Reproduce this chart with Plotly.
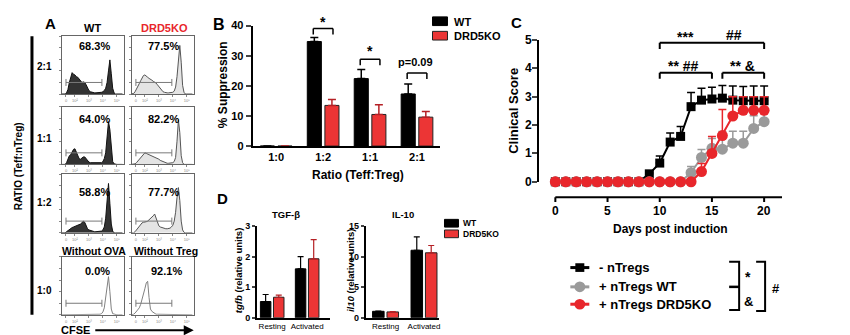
import plotly.graph_objects as go

W, H = 850, 335
FONT = "Arial, 'Liberation Sans', Helvetica, sans-serif"
RED = "#e8262b"
BAR_RED = "#ec3535"
ERR_RED = "#b52025"
GREY = "#9a9a9a"

# ---------------- Panel A: CFSE histograms (log10 decades, normalised counts) ----------------
cfse_bins = [1.0, 1.1, 1.2, 1.3, 1.4, 1.5, 1.6, 1.7, 1.8, 1.9,
             2.0, 2.1, 2.2, 2.3, 2.4, 2.5, 2.6, 2.7, 2.8, 2.9,
             3.0, 3.1, 3.2, 3.3, 3.4, 3.5, 3.6, 3.7, 3.8, 3.9,
             4.0, 4.1, 4.2, 4.3, 4.4, 4.5, 4.6, 4.7, 4.8, 4.9,
             5.0, 5.1, 5.2, 5.3, 5.4]
wt_2_1 = [0, 0, 0, 0, 0.02, 0.08, 0.2, 0.3, 0.37, 0.34,
          0.33, 0.3, 0.29, 0.26, 0.22, 0.2, 0.21, 0.2, 0.16, 0.1,
          0.06, 0.04, 0.03, 0.03, 0.02, 0.02, 0.02, 0.02, 0.02, 0.03,
          0.04, 0.06, 0.1, 0.2, 0.4, 0.59, 0.35, 0.1, 0.02, 0,
          0, 0, 0, 0, 0]
ko_2_1 = [0, 0, 0.01, 0.04, 0.08, 0.13, 0.18, 0.23, 0.28, 0.32,
          0.33, 0.3, 0.29, 0.27, 0.26, 0.24, 0.22, 0.21, 0.19, 0.16,
          0.13, 0.09, 0.06, 0.04, 0.03, 0.02, 0.02, 0.02, 0.02, 0.02,
          0.03, 0.05, 0.12, 0.3, 0.65, 0.84, 0.55, 0.15, 0.03, 0,
          0, 0, 0, 0, 0]
wt_1_1 = [0, 0, 0, 0, 0.03, 0.1, 0.15, 0.17, 0.22, 0.26,
          0.27, 0.22, 0.15, 0.1, 0.09, 0.11, 0.13, 0.13, 0.1, 0.06,
          0.04, 0.03, 0.03, 0.02, 0.02, 0.02, 0.02, 0.02, 0.02, 0.03,
          0.05, 0.1, 0.2, 0.45, 0.74, 0.6, 0.25, 0.05, 0.01, 0,
          0, 0, 0, 0, 0]
ko_1_1 = [0, 0, 0, 0.01, 0.03, 0.06, 0.09, 0.12, 0.15, 0.18,
          0.2, 0.19, 0.18, 0.17, 0.16, 0.15, 0.14, 0.13, 0.12, 0.1,
          0.09, 0.07, 0.06, 0.04, 0.03, 0.02, 0.02, 0.02, 0.02, 0.02,
          0.03, 0.05, 0.12, 0.4, 0.77, 0.55, 0.15, 0.03, 0, 0,
          0, 0, 0, 0, 0]
wt_1_2 = [0, 0, 0, 0, 0.02, 0.04, 0.06, 0.08, 0.09, 0.1,
          0.11, 0.11, 0.13, 0.14, 0.15, 0.17, 0.2, 0.18, 0.12, 0.07,
          0.05, 0.04, 0.03, 0.03, 0.02, 0.02, 0.02, 0.02, 0.02, 0.03,
          0.05, 0.1, 0.25, 0.6, 0.84, 0.5, 0.15, 0.03, 0, 0,
          0, 0, 0, 0, 0]
ko_1_2 = [0, 0, 0, 0.02, 0.05, 0.09, 0.12, 0.15, 0.17, 0.18,
          0.18, 0.19, 0.2, 0.22, 0.24, 0.26, 0.29, 0.32, 0.24, 0.16,
          0.12, 0.1, 0.09, 0.08, 0.07, 0.07, 0.07, 0.07, 0.08, 0.1,
          0.13, 0.2, 0.35, 0.6, 0.77, 0.55, 0.2, 0.05, 0.01, 0,
          0, 0, 0, 0, 0]
wt_1_0 = [0, 0, 0, 0, 0.01, 0.01, 0.01, 0.01, 0.01, 0.01,
          0.01, 0.01, 0.01, 0.01, 0.01, 0.01, 0.01, 0.01, 0.01, 0.01,
          0.01, 0.01, 0.01, 0.01, 0.01, 0.01, 0.01, 0.01, 0.01, 0.02,
          0.05, 0.12, 0.3, 0.55, 0.66, 0.4, 0.1, 0.02, 0.01, 0,
          0, 0, 0, 0, 0]
ko_1_0 = [0, 0, 0.01, 0.03, 0.06, 0.1, 0.12, 0.18, 0.26, 0.34,
          0.45, 0.55, 0.58, 0.3, 0.1, 0.06, 0.04, 0.02, 0.01, 0.01,
          0.01, 0.01, 0.01, 0.01, 0.01, 0.01, 0.01, 0.01, 0.01, 0.01,
          0.01, 0.01, 0.01, 0.01, 0.01, 0.01, 0.01, 0.01, 0.01, 0,
          0, 0, 0, 0, 0]
gate_range = [1.36, 3.93]
gate_level = [0.2, 0.2]
cfse_tickvals = [1.36, 2, 3, 4, 5]
cfse_ticktext = ["0", "10²", "10³", "10⁴", "10⁵"]
ratio_rows = ["2:1", "1:1", "1:2", "1:0"]
pct_wt = ["68.3%", "64.0%", "58.8%", "0.0%"]
pct_ko = ["77.5%", "82.2%", "77.7%", "92.1%"]

# ---------------- Panel B ----------------
ratio_cats = ["1:0", "1:2", "1:1", "2:1"]
supp_wt = [0, 34.7, 22.4, 17.3]
supp_wt_err = [None, 1.35, 3.0, 3.3]
supp_ko = [0, 13.5, 10.5, 9.6]
supp_ko_err = [None, 2.0, 3.2, 1.9]

# ---------------- Panel C ----------------
days = [0, 1, 2, 3, 4, 5, 6, 7, 8, 9, 10, 11, 12, 13, 14, 15, 16, 17, 18, 19, 20]
score_none = [0, 0, 0, 0, 0, 0, 0, 0, 0, 0.28, 0.66, 1.4, 1.6, 2.65, 2.88, 2.92, 2.95, 2.88, 2.86, 2.86, 2.86]
score_none_err = [0, 0, 0, 0, 0, 0, 0, 0, 0, 0.05, 0.25, 0.32, 0.35, 0.5, 0.42, 0.41, 0.45, 0.5, 0.5, 0.52, 0.52]
score_wt = [0, 0, 0, 0, 0, 0, 0, 0, 0, 0, 0, 0, 0, 0.32, 0.86, 1.18, 1.15, 1.36, 1.36, 1.88, 2.12]
score_wt_err = [0, 0, 0, 0, 0, 0, 0, 0, 0, 0, 0, 0, 0, 0.22, 0.28, 0.35, 0.62, 0.42, 0.42, 0.45, 0.45]
score_ko = [0, 0, 0, 0, 0, 0, 0, 0, 0, 0, 0, 0, 0, 0, 0.36, 1.0, 1.63, 2.32, 2.52, 2.52, 2.52]
score_ko_err = [0, 0, 0, 0, 0, 0, 0, 0, 0, 0, 0, 0, 0, 0, 0.28, 0.6, 0.92, 0.68, 0.48, 0.48, 0.48]
day_ticks = [0, 5, 10, 15, 20]
score_ticks = [0, 1, 2, 3, 4, 5]
group_names = ["- nTregs", "+ nTregs WT", "+ nTregs DRD5KO"]

# ---------------- Panel D ----------------
cond = ["Resting", "Activated"]
tgfb_wt = [0.53, 1.6]
tgfb_wt_err = [0.23, 0.4]
tgfb_ko = [0.67, 1.93]
tgfb_ko_err = [0.07, 0.63]
il10_wt = [1.05, 11.05]
il10_wt_err = [0.05, 2.2]
il10_ko = [0.95, 10.63]
il10_ko_err = [0.07, 1.2]


def X(p):
    return p / W


def Y(p):
    return 1 - p / H


fig = go.Figure()
annotations = []
shapes = []
layout = dict(
    width=W, height=H, margin=dict(l=0, r=0, t=0, b=0),
    paper_bgcolor="white", plot_bgcolor="white", showlegend=False,
    barmode="group", bargap=0.25, bargroupgap=0.2,
    font=dict(family=FONT, color="black"),
)


def text(t, x, y, size=11, color="black", bold=True, angle=0, xanchor="center", yanchor="middle"):
    annotations.append(dict(
        text=t, x=X(x), y=Y(y), xref="paper", yref="paper", showarrow=False,
        font=dict(family=FONT, size=size, color=color, weight="bold" if bold else "normal"),
        textangle=angle, xanchor=xanchor, yanchor=yanchor))


# ---- Panel A histograms
hist_sets = [(wt_2_1, ko_2_1), (wt_1_1, ko_1_1), (wt_1_2, ko_1_2), (wt_1_0, ko_1_0)]
row_y = [(23, 83), (96, 156), (166, 227), (252, 312)]
col_x = [(54, 116), (124, 186)]
pct_y = [33, 109, 185, 267]
for r in range(4):
    for c in range(2):
        k = 2 * r + c + 1
        s = "" if k == 1 else str(k)
        vals = hist_sets[r][c]
        if r == 3:
            fill, fcol, lcol = "none", "rgba(0,0,0,0)", "#808080"
        elif c == 0:
            fill, fcol, lcol = "tozeroy", "#333333", "#111111"
        else:
            fill, fcol, lcol = "tozeroy", "#e4e4e4", "#555555"
        fig.add_trace(go.Scatter(x=cfse_bins, y=vals, mode="lines", fill=fill, fillcolor=fcol,
                                 line=dict(color=lcol, width=1), xaxis="x" + s, yaxis="y" + s,
                                 hoverinfo="skip"))
        fig.add_trace(go.Scatter(x=gate_range, y=gate_level, mode="lines+markers",
                                 line=dict(color="#7a7a7a", width=1),
                                 marker=dict(symbol="line-ns-open", size=5, color="#7a7a7a",
                                             line=dict(width=1, color="#7a7a7a")),
                                 xaxis="x" + s, yaxis="y" + s, hoverinfo="skip"))
        x0, x1 = col_x[c]
        y0, y1 = row_y[r]
        layout["xaxis" + s] = dict(domain=[X(x0), X(x1)], range=[1.07, 5.5], anchor="y" + s,
                                   showline=True, mirror=True, linecolor="#666", linewidth=1,
                                   ticks="outside", ticklen=2, tickwidth=0.8, tickcolor="#888",
                                   tickvals=cfse_tickvals, ticktext=cfse_ticktext,
                                   tickfont=dict(size=4, color="#888"),
                                   showgrid=False, zeroline=False, fixedrange=True)
        layout["yaxis" + s] = dict(domain=[Y(y1), Y(y0)], range=[0, 1], anchor="x" + s,
                                   showline=True, mirror=True, linecolor="#666", linewidth=1,
                                   ticks="outside", ticklen=2, tickwidth=0.8, tickcolor="#888",
                                   tickvals=[0, 0.2, 0.4, 0.6, 0.8, 1.0], showticklabels=False,
                                   showgrid=False, zeroline=False, fixedrange=True)
    text(pct_wt[r], 87 if r < 3 else 90, pct_y[r], size=11)
    text(pct_ko[r], 156 if r < 3 else 159, pct_y[r], size=11)

row_label_y = [54, 129, 195, 287]
for r in range(4):
    text(ratio_rows[r], 37, row_label_y[r], size=10)
text("A", 43, 10, size=15)
text("WT", 85, 15, size=11)
text("DRD5KO", 157, 15, size=11, color=RED)
text("Without OVA", 86, 246, size=10.5)
text("Without Treg", 158, 246, size=10.5)
text("RATIO (Teff:nTreg)", 10, 158, size=10, angle=-90)
text("CFSE", 68, 328, size=11)
shapes.append(dict(type="line", xref="paper", yref="paper", x0=X(24), x1=X(24), y0=Y(23), y1=Y(312),
                   line=dict(color="black", width=3)))
annotations.append(dict(x=X(186), y=Y(328), ax=-100, ay=0, xref="paper", yref="paper",
                        axref="pixel", ayref="pixel", showarrow=True, arrowhead=2, arrowsize=1,
                        arrowwidth=2, arrowcolor="black", text=""))

# ---- Panel B
fig.add_trace(go.Bar(x=ratio_cats, y=supp_wt, marker=dict(color="black", line=dict(color="black", width=1)),
                     error_y=dict(type="data", array=supp_wt_err, arrayminus=[0, 0, 0, 0], symmetric=False,
                                  color="black", thickness=1.5, width=4),
                     xaxis="x9", yaxis="y9", offsetgroup="wt"))
fig.add_trace(go.Bar(x=ratio_cats, y=supp_ko, marker=dict(color=BAR_RED, line=dict(color="#222", width=1)),
                     error_y=dict(type="data", array=supp_ko_err, arrayminus=[0, 0, 0, 0], symmetric=False,
                                  color=ERR_RED, thickness=1.5, width=4),
                     xaxis="x9", yaxis="y9", offsetgroup="ko"))
bold11 = dict(family=FONT, size=11, color="black", weight="bold")
layout["xaxis9"] = dict(domain=[X(245), X(433)], anchor="y9", type="category", range=[-0.5, 3.5],
                        showline=True, linewidth=2, linecolor="black", ticks="", tickfont=bold11,
                        showgrid=False, zeroline=False, fixedrange=True)
layout["yaxis9"] = dict(domain=[Y(137), Y(12)], anchor="x9", range=[0, 40], tickvals=[0, 10, 20, 30, 40],
                        showline=True, linewidth=2, linecolor="black", ticks="outside", ticklen=5,
                        tickwidth=2, tickfont=bold11, showgrid=False, zeroline=False, fixedrange=True)


def bracket(xr, yr, xa, yt, yl, w=1.5):
    for (a0, b0, a1, b1) in [(xa[0], yl, xa[0], yt), (xa[0], yt, xa[1], yt), (xa[1], yt, xa[1], yl)]:
        shapes.append(dict(type="line", xref=xr, yref=yr, x0=a0, y0=b0, x1=a1, y1=b1,
                           line=dict(color="black", width=w)))


bracket("x9", "y9", [0.79, 1.21], 39.0, 37.0)
bracket("x9", "y9", [1.79, 2.21], 28.8, 26.8)
bracket("x9", "y9", [2.79, 3.21], 24.3, 22.3)
text("*", 315, 8, size=14)
text("*", 362, 38, size=14)
text("p=0.09", 408, 50, size=11)
text("B", 211, 11, size=16)
text("% Suppression", 216, 73, size=12, angle=-90)
text("Ratio (Teff:Treg)", 350, 167, size=12)
shapes.append(dict(type="rect", xref="paper", yref="paper", x0=X(425), x1=X(440), y0=Y(12), y1=Y(3),
                   fillcolor="black", line=dict(color="black", width=1)))
shapes.append(dict(type="rect", xref="paper", yref="paper", x0=X(425), x1=X(440), y0=Y(27), y1=Y(18),
                   fillcolor=BAR_RED, line=dict(color="#222", width=1)))
text("WT", 445, 8, size=11, xanchor="left")
text("DRD5KO", 445, 23, size=11, xanchor="left")

# ---- Panel C
series = [(score_none, score_none_err, "black", "square", 9),
          (score_wt, score_wt_err, GREY, "circle", 11),
          (score_ko, score_ko_err, RED, "circle", 11)]
for (vals, err, col, sym, sz), nm in zip(series, group_names):
    fig.add_trace(go.Scatter(x=days, y=vals, name=nm, mode="lines+markers",
                             line=dict(color=col, width=2),
                             marker=dict(symbol=sym, size=sz, color=col, line=dict(width=0)),
                             error_y=dict(type="data", array=err, arrayminus=[0] * len(err), symmetric=False,
                                          color=col, thickness=1.5, width=4),
                             cliponaxis=False, xaxis="x10", yaxis="y10"))
C_XMAX = 21.72
C_Y0, C_Y5 = 174, 27
layout["xaxis10"] = dict(domain=[X(532), X(775)], anchor="y10", range=[-1.53, C_XMAX],
                         showline=False, showticklabels=False, ticks="",
                         showgrid=False, zeroline=False, fixedrange=True)
layout["yaxis10"] = dict(domain=[Y(C_Y0), Y(C_Y5)], anchor="x10", range=[0, 5],
                         tickvals=score_ticks, showline=True, linewidth=2, linecolor="black",
                         ticks="outside", ticklen=5, tickwidth=2, showticklabels=False,
                         showgrid=False, zeroline=False, fixedrange=True)
for v in score_ticks:
    text(str(v), 521, C_Y0 - v * (C_Y0 - C_Y5) / 5, size=12)
# GraphPad-style offset x axis drawn on the x10 scale
shapes.append(dict(type="line", xref="x10", yref="paper", x0=0, x1=C_XMAX, y0=Y(190), y1=Y(190),
                   line=dict(color="black", width=2)))
for d in day_ticks:
    shapes.append(dict(type="line", xref="x10", yref="paper", x0=d, x1=d, y0=Y(190), y1=Y(195),
                       line=dict(color="black", width=2)))
    annotations.append(dict(text=str(d), x=d, y=Y(204), xref="x10", yref="paper", showarrow=False,
                            font=dict(family=FONT, size=12, color="black", weight="bold"),
                            xanchor="center", yanchor="middle"))
bracket("x10", "y10", [10, 20], 4.9, 4.68, w=2)
bracket("x10", "y10", [10, 15], 3.85, 3.63, w=2)
bracket("x10", "y10", [16, 20], 3.85, 3.63, w=2)
text("***", 678, 24, size=14)
text("##", 727, 22, size=14)
text("** ##", 676, 54, size=14)
text("** &", 735, 54, size=14)
text("C", 509, 9, size=15)
text("Clinical Score", 506, 100, size=13, angle=-90)
text("Days post induction", 663, 223, size=12)

leg_y = [263, 283, 301]
leg_col = ["black", GREY, RED]
for i in range(3):
    yy = leg_y[i]
    shapes.append(dict(type="line", xref="paper", yref="paper", x0=X(563), x1=X(582), y0=Y(yy), y1=Y(yy),
                       line=dict(color=leg_col[i], width=3)))
    if i == 0:
        shapes.append(dict(type="rect", xref="paper", yref="paper", x0=X(568), x1=X(577),
                           y0=Y(yy + 4.5), y1=Y(yy - 4.5), fillcolor="black", line=dict(width=0)))
    else:
        shapes.append(dict(type="circle", xref="paper", yref="paper", x0=X(567), x1=X(578),
                           y0=Y(yy + 5.5), y1=Y(yy - 5.5), fillcolor=leg_col[i], line=dict(width=0)))
    text(group_names[i], 590, yy, size=13, xanchor="left")


def ppath(pts, w=2):
    d = "M " + " L ".join(f"{X(a):.5f},{Y(b):.5f}" for a, b in pts)
    shapes.append(dict(type="path", xref="paper", yref="paper", path=d, line=dict(color="black", width=w)))


ppath([(722, 257), (732, 257), (732, 307), (722, 307)])
ppath([(722, 283), (732, 283)], w=2.5)
ppath([(749, 257), (758, 257), (758, 308), (749, 308)])
text("*", 741, 273, size=14)
text("&", 741, 298, size=13)
text("#", 769, 285, size=13)

# ---- Panel D
bold9 = dict(family=FONT, size=9, color="black", weight="bold")
norm8 = dict(family=FONT, size=8, color="black")
for (wt, wte, ko, koe, k) in [(tgfb_wt, tgfb_wt_err, tgfb_ko, tgfb_ko_err, 11),
                              (il10_wt, il10_wt_err, il10_ko, il10_ko_err, 12)]:
    fig.add_trace(go.Bar(x=cond, y=wt, marker=dict(color="black", line=dict(color="black", width=1)),
                         error_y=dict(type="data", array=wte, arrayminus=[0, 0], symmetric=False,
                                      color="black", thickness=1.2, width=3),
                         xaxis=f"x{k}", yaxis=f"y{k}", offsetgroup="wt"))
    fig.add_trace(go.Bar(x=cond, y=ko, marker=dict(color=BAR_RED, line=dict(color="#222", width=1)),
                         error_y=dict(type="data", array=koe, arrayminus=[0, 0], symmetric=False,
                                      color=ERR_RED, thickness=1.2, width=3),
                         xaxis=f"x{k}", yaxis=f"y{k}", offsetgroup="ko"))
layout["xaxis11"] = dict(domain=[X(249), X(322)], anchor="y11", type="category", range=[-0.443, 1.643],
                         showline=True, linewidth=1.5, linecolor="black", ticks="", tickfont=norm8,
                         showgrid=False, zeroline=False, fixedrange=True)
layout["yaxis11"] = dict(domain=[Y(315), Y(220)], anchor="x11", range=[0, 3], tickvals=[0, 1, 2, 3],
                         showline=True, linewidth=1.5, linecolor="black", ticks="outside", ticklen=3,
                         tickwidth=1.5, tickfont=bold9, showgrid=False, zeroline=False, fixedrange=True)
layout["xaxis12"] = dict(domain=[X(358), X(432)], anchor="y12", type="category", range=[-0.519, 1.403],
                         showline=True, linewidth=1.5, linecolor="black", ticks="", tickfont=norm8,
                         showgrid=False, zeroline=False, fixedrange=True)
layout["yaxis12"] = dict(domain=[Y(315), Y(220)], anchor="x12", range=[0, 15], tickvals=[0, 5, 10, 15],
                         showline=True, linewidth=1.5, linecolor="black", ticks="outside", ticklen=3,
                         tickwidth=1.5, tickfont=bold9, showgrid=False, zeroline=False, fixedrange=True)
text("D", 215, 191, size=15)
text("TGF-β", 278, 208, size=9.5)
text("IL-10", 395, 208, size=9.5)
text("<i>tgfb</i> (relative units)", 231, 266, size=9.5, angle=-90)
text("<i>il10</i> (relative units)", 343, 266, size=9.5, angle=-90)
shapes.append(dict(type="rect", xref="paper", yref="paper", x0=X(437), x1=X(451), y0=Y(221), y1=Y(213),
                   fillcolor="black", line=dict(color="black", width=1)))
shapes.append(dict(type="rect", xref="paper", yref="paper", x0=X(437), x1=X(451), y0=Y(232), y1=Y(224),
                   fillcolor=BAR_RED, line=dict(color="#222", width=1)))
text("WT", 454, 217, size=8.5, xanchor="left")
text("DRD5KO", 454, 228, size=8.5, xanchor="left")

layout["annotations"] = annotations
layout["shapes"] = shapes
fig.update_layout(**layout)
fig.write_html("out.html")
